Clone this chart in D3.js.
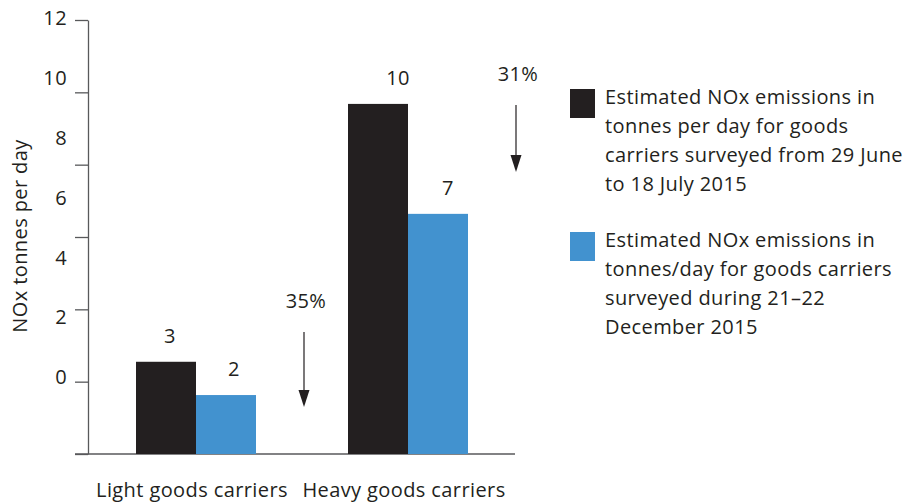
<!DOCTYPE html>
<html><head><meta charset="utf-8">
<script src="https://cdn.jsdelivr.net/npm/d3@7/dist/d3.min.js"></script>
<style>
html,body{margin:0;padding:0;background:#fff;}
text{font-family:"Open Sans","Noto Sans",sans-serif;fill:#231f20;letter-spacing:0.4px;}
</style></head><body>
<svg id="chart" width="915" height="504"></svg>
<script>
// ---- data ----
const categories = ["Light goods carriers", "Heavy goods carriers"];
const seriesNames = [
  "Estimated NOx emissions in tonnes per day for goods carriers surveyed from 29 June to 18 July 2015",
  "Estimated NOx emissions in tonnes/day for goods carriers surveyed during 21\u201322 December 2015"
];
const julyValues = [2.55, 9.68];
const decemberValues = [1.63, 6.64];
const barLabels = [["3", "2"], ["10", "7"]];
const reductionLabels = ["35%", "31%"];
const arrowFrom = [3.37, 9.65];
const arrowTo = [1.3, 7.8];
const yTickValues = [0, 2, 4, 6, 8, 10, 12];
const yTickLabels = ["0", "2", "4", "6", "8", "10", "12"];
const legendLines = [
  ["Estimated NOx emissions in", "tonnes per day for goods", "carriers surveyed from 29 June", "to 18 July 2015"],
  ["Estimated NOx emissions in", "tonnes/day for goods carriers", "surveyed during 21\u201322", "December 2015"]
];

// ---- layout ----
const colors = ["#231f20", "#4292cf"];
const axisColor = "#58595b";
const svg = d3.select("#chart");
const fs = 20;

const y = d3.scaleLinear().domain([0, 12]).range([454, 20]);
// tick labels in the original sit on an evenly spaced, offset grid
const yLabel = d3.scaleLinear().domain([0, 12]).range([377, 18]);
const x = d3.scaleBand().domain(categories).range([90, 514]).padding(0);
const xs = d3.scaleBand().domain([0, 1]).range([-60, 60]).padding(0);

// y axis
const yAxis = svg.append("g").attr("transform", "translate(88,0)")
  .call(d3.axisLeft(y).tickValues(yTickValues).tickSize(13).tickSizeOuter(0).tickFormat(""));
yAxis.selectAll("line").attr("stroke", axisColor).attr("stroke-width", 1.3);
yAxis.select(".domain").attr("stroke", axisColor).attr("stroke-width", 1.3);

svg.append("g").selectAll("text").data(yTickValues).join("text")
  .attr("x", 67).attr("y", d => yLabel(d)).attr("dy", "0.36em")
  .attr("text-anchor", "end").attr("font-size", fs)
  .text((d, i) => yTickLabels[i]);

// x axis line
svg.append("line").attr("x1", 75).attr("x2", 515).attr("y1", y(0)).attr("y2", y(0))
  .attr("stroke", axisColor).attr("stroke-width", 1.5);

// y title
svg.append("text").attr("transform", "translate(27,236) rotate(-90)")
  .attr("text-anchor", "middle").attr("font-size", fs).text("NOx tonnes per day");

// bars
const rows = categories.map((c, i) => ({c, vals: [julyValues[i], decemberValues[i]], labels: barLabels[i]}));
const labelDx = [[4, 8], [20, 10]];
rows.forEach((r, ci) => {
  const cx = x(r.c) + x.bandwidth() / 2;
  r.vals.forEach((v, si) => {
    svg.append("rect")
      .attr("x", cx + xs(si)).attr("width", xs.bandwidth())
      .attr("y", y(v)).attr("height", y(0) - y(v))
      .attr("fill", colors[si]);
    svg.append("text")
      .attr("x", cx + xs(si) + xs.bandwidth() / 2 + labelDx[ci][si])
      .attr("y", y(v) - 19).attr("text-anchor", "middle").attr("font-size", fs)
      .text(r.labels[si]);
  });
  // category label
  svg.append("text").attr("x", cx - 4).attr("y", 497).attr("text-anchor", "middle")
    .attr("font-size", fs).text(r.c);
  // reduction arrow
  const ax = cx + 108;
  svg.append("text").attr("x", ax + 2).attr("y", y(arrowFrom[ci]) - 24)
    .attr("text-anchor", "middle").attr("font-size", fs).text(reductionLabels[ci]);
  svg.append("line").attr("x1", ax).attr("x2", ax)
    .attr("y1", y(arrowFrom[ci])).attr("y2", y(arrowTo[ci]) - 10)
    .attr("stroke", "#231f20").attr("stroke-width", 1.2);
  svg.append("path")
    .attr("d", `M${ax - 5.5},${y(arrowTo[ci]) - 17}L${ax + 5.5},${y(arrowTo[ci]) - 17}L${ax},${y(arrowTo[ci])}Z`)
    .attr("fill", "#231f20");
});

// legend
const legendTop = [89, 232];
seriesNames.forEach((s, i) => {
  const g = svg.append("g");
  g.append("rect").attr("x", 570).attr("y", legendTop[i]).attr("width", 25).attr("height", 29)
    .attr("fill", colors[i]);
  g.append("text").attr("x", 605).attr("y", legendTop[i] + 15).attr("font-size", fs)
    .selectAll("tspan").data(legendLines[i]).join("tspan")
    .attr("x", 605).attr("dy", (d, j) => j === 0 ? "0" : "29px").text(d => d);
});
</script>
</body></html>
